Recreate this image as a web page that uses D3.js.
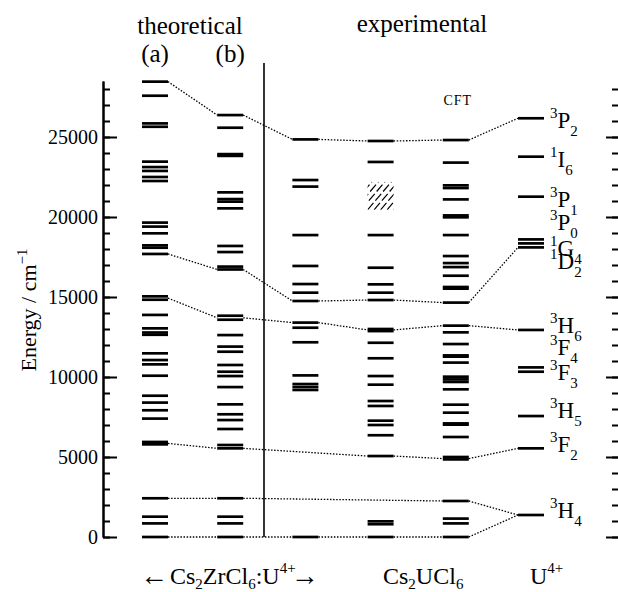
<!DOCTYPE html>
<html>
<head>
<meta charset="utf-8">
<script src="https://cdn.jsdelivr.net/npm/d3@7"></script>
<style>
    body { margin: 0; background: #fff; }
    svg text { font-family: "Liberation Serif", "DejaVu Serif", serif; }
</style>
</head>
<body>
<div id="levels_plot"></div>
<script>
// energy levels (cm-1) per column
const columnKeys = ["a", "b", "exp", "cs2ucl6", "cft", "u4"];
const levelsA = [0, 850, 1270, 2420, 5790, 5940, 7400, 7920, 8400, 8830, 10080, 10790, 11060, 11480,
    12640, 12780, 13040, 13880, 14830, 15040, 17690, 18080, 18230, 18980, 19400, 19650,
    22250, 22500, 22880, 23120, 23460, 25640, 25850, 27580, 28460];
const levelsB = [0, 850, 1270, 2420, 5540, 5750, 6750, 7310, 7670, 8290, 9370, 10060, 10330, 10750,
    11580, 11900, 12620, 13580, 13830, 16720, 16900, 17810, 18190, 20540, 20960, 21120, 21540,
    23820, 23930, 25580, 26370];
const levelsExp = [0, 9190, 9375, 9560, 10100, 12170, 13080, 13400, 14750, 15270, 15810, 16940,
    18870, 21900, 22310, 24850];
const levelsCs2UCl6 = [0, 800, 980, 5060, 6360, 7000, 7270, 8190, 8500, 9520, 10060, 11170, 12140,
    12870, 13000, 14810, 15270, 15790, 16830, 18870, 23440, 24750];
const levelsCFT = [0, 850, 1150, 2250, 4850, 5000, 6250, 7020, 7100, 7770, 8270, 9230, 9690, 9850,
    10020, 10900, 11270, 11350, 12060, 12790, 13210, 14650, 15520, 15625, 16330, 16870, 17120,
    17560, 18870, 19980, 20100, 21100, 21810, 21980, 23400, 24810];
// free ion terms
const termSup = ["3", "1", "3", "3", "1", "1", "3", "3", "3", "3", "3", "3"];
const termLetter = ["P", "I", "P", "P", "G", "D", "H", "F", "F", "H", "F", "H"];
const termSub = ["2", "6", "1", "0", "4", "2", "6", "4", "3", "5", "2", "4"];
const termEnergy = [26170, 23770, 21270, 18600, 18350, 18100, 12940, 10600, 10330, 7560, 5540, 1375];
// correlation lines (null = column skipped)
const correlations = [
    [28460, 26370, 24850, 24750, 24810, 26170],
    [17690, 16720, 14750, 14810, 14650, 18100],
    [14930, 13700, 13400, 12940, 13210, 12940],
    [5850, 5540, null, 5060, 4900, 5540],
    [2420, 2420, null, null, 2250, 1375],
    [0, 0, 0, 0, 0, 1375]
];
// unresolved band in Cs2UCl6 spectrum
const hatchBand = [20450, 22200];
const yTicksMajor = [0, 5000, 10000, 15000, 20000, 25000];

const width = 618, height = 592;
const levelW = 26;
const serif = "'Liberation Serif', 'DejaVu Serif', serif";
// label offsets from the level (px), to untangle crowded terms
const termDy = [10, 10, 10, -9, 13, 22, 3, -12, 8, 2, 3.5, 3];

const svg = d3.select("#levels_plot")
    .append("svg")
    .attr("width", width)
    .attr("height", height)
    .attr("font-family", serif);

const y = d3.scaleLinear().domain([0, 28500]).range([537, 81]);
const x = d3.scalePoint().domain(columnKeys).range([155, 531]);

const allLevels = [levelsA, levelsB, levelsExp, levelsCs2UCl6, levelsCFT, termEnergy];

// left axis, ticks pointing inward
const leftAxis = svg.append("g").attr("transform", "translate(103,0)");
leftAxis.call(d3.axisLeft(y).tickValues(d3.range(0, 28001, 1000)).tickSize(-7).tickSizeOuter(0).tickFormat(""));
leftAxis.append("g")
    .call(d3.axisLeft(y).tickValues(yTicksMajor).tickSize(-14).tickSizeOuter(0).tickPadding(5)
        .tickFormat(d3.format("d")));
leftAxis.selectAll("g").attr("font-family", serif);
leftAxis.attr("font-family", serif);
leftAxis.selectAll("path, line").attr("stroke", "black").attr("stroke-width", 2);
leftAxis.selectAll("text")
    .attr("font-family", serif)
    .attr("font-size", 20)
    .attr("fill", "black");

// right axis at the edge
const rightAxis = svg.append("g").attr("transform", "translate(619,0)");
rightAxis.call(d3.axisRight(y).tickValues(d3.range(0, 28001, 1000)).tickSize(-7).tickSizeOuter(0).tickFormat(""));
rightAxis.append("g")
    .call(d3.axisRight(y).tickValues(yTicksMajor).tickSize(-13).tickSizeOuter(0).tickFormat(""));
rightAxis.selectAll("path, line").attr("stroke", "black").attr("stroke-width", 2);

// separator between theory and experiment
svg.append("line")
    .attr("x1", 264).attr("x2", 264)
    .attr("y1", 63).attr("y2", y(0))
    .attr("stroke", "black")
    .attr("stroke-width", 1.6);

// dotted correlation lines
correlations.forEach(chain => {
    const pts = [];
    chain.forEach((e, i) => {
        if (e === null) return;
        pts.push([x(columnKeys[i]) - levelW / 2, y(e)]);
        pts.push([x(columnKeys[i]) + levelW / 2, y(e)]);
    });
    const segs = [];
    for (let i = 1; i < pts.length - 1; i += 2) segs.push([pts[i], pts[i + 1]]);
    svg.selectAll(null)
        .data(segs)
        .join("line")
        .attr("x1", d => d[0][0]).attr("y1", d => d[0][1])
        .attr("x2", d => d[1][0]).attr("y2", d => d[1][1])
        .attr("stroke", "black")
        .attr("stroke-width", 1.3)
        .attr("stroke-dasharray", "1.5,1.6");
});

// levels
allLevels.forEach((levels, i) => {
    const cx = x(columnKeys[i]);
    svg.append("g")
        .selectAll("line")
        .data(levels)
        .join("line")
        .attr("x1", cx - levelW / 2)
        .attr("x2", cx + levelW / 2)
        .attr("y1", d => y(d))
        .attr("y2", d => y(d))
        .attr("stroke", "black")
        .attr("stroke-width", 2.7);
});

// hatched band
const hx = x("cs2ucl6") - levelW / 2;
svg.append("clipPath").attr("id", "hatchClip")
    .append("rect")
    .attr("x", hx).attr("y", y(hatchBand[1]))
    .attr("width", levelW).attr("height", y(hatchBand[0]) - y(hatchBand[1]));
const hh = y(hatchBand[0]) - y(hatchBand[1]);
svg.append("g")
    .attr("clip-path", "url(#hatchClip)")
    .selectAll("line")
    .data(d3.range(-5, 10))
    .join("line")
    .attr("x1", k => hx + k * 6.5)
    .attr("y1", y(hatchBand[0]))
    .attr("x2", k => hx + k * 6.5 + hh * 0.85)
    .attr("y2", y(hatchBand[1]))
    .attr("stroke", "black")
    .attr("stroke-width", 1.2)
    .attr("stroke-dasharray", "9,3");

// term labels
const termText = svg.append("g")
    .selectAll("text")
    .data(termEnergy)
    .join("text")
    .attr("x", 550)
    .attr("y", (d, i) => y(d) + termDy[i]);
termText.append("tspan").attr("font-size", 15).attr("dy", -10).text((d, i) => termSup[i]);
termText.append("tspan").attr("font-size", 23).attr("dy", 10).text((d, i) => termLetter[i]);
termText.append("tspan").attr("font-size", 15).attr("dy", 8).text((d, i) => termSub[i]);

// headings
svg.append("text").attr("x", 190).attr("y", 34).attr("text-anchor", "middle")
    .attr("font-size", 25).text("theoretical");
svg.append("text").attr("x", x("a")).attr("y", 62).attr("text-anchor", "middle")
    .attr("font-size", 25).text("(a)");
svg.append("text").attr("x", x("b")).attr("y", 62).attr("text-anchor", "middle")
    .attr("font-size", 25).text("(b)");
svg.append("text").attr("x", 422).attr("y", 32).attr("text-anchor", "middle")
    .attr("font-size", 25).text("experimental");
svg.append("text").attr("x", x("cft") + 2).attr("y", 105).attr("text-anchor", "middle")
    .attr("font-size", 14).attr("letter-spacing", 1).text("CFT");

// y title
const yTitle = svg.append("text")
    .attr("transform", "translate(36,310) rotate(-90)")
    .attr("text-anchor", "middle")
    .attr("font-size", 22);
yTitle.append("tspan").text("Energy / cm");
yTitle.append("tspan").attr("font-size", 15).attr("dy", -9).text("\u22121");

// bottom labels
const host = svg.append("text").attr("x", 140).attr("y", 584).attr("font-size", 24);
host.append("tspan").attr("font-size", 28).attr("dy", 1).text("\u2190");
host.append("tspan").attr("dy", -1).attr("dx", 2).text("Cs");
host.append("tspan").attr("font-size", 15).attr("dy", 5).text("2");
host.append("tspan").attr("dy", -5).text("ZrCl");
host.append("tspan").attr("font-size", 15).attr("dy", 5).text("6");
host.append("tspan").attr("dy", -5).text(":U");
host.append("tspan").attr("font-size", 15).attr("dy", -11).text("4+");
host.append("tspan").attr("font-size", 28).attr("dy", 12).attr("dx", -5).text("\u2192");

const salt = svg.append("text").attr("x", 383).attr("y", 584).attr("font-size", 24);
salt.append("tspan").text("Cs");
salt.append("tspan").attr("font-size", 15).attr("dy", 5).text("2");
salt.append("tspan").attr("dy", -5).text("UCl");
salt.append("tspan").attr("font-size", 15).attr("dy", 5).text("6");

const ion = svg.append("text").attr("x", 530).attr("y", 584).attr("font-size", 24);
ion.append("tspan").text("U");
ion.append("tspan").attr("font-size", 15).attr("dy", -11).text("4+");
</script>
</body>
</html>
